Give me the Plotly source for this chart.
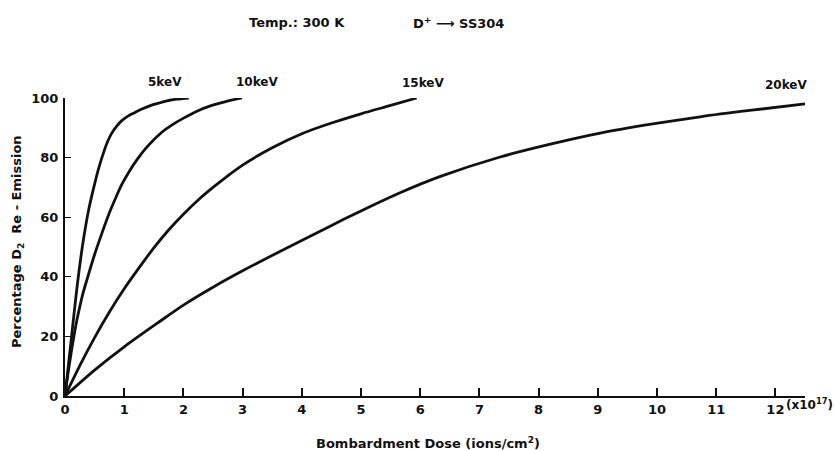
import plotly.graph_objects as go

# Bombardment dose (x 10^17 ions/cm^2) and D2 re-emission (%) for each beam energy
dose_5kev = [0, 0.10, 0.20, 0.30, 0.40, 0.48, 0.57, 0.65, 0.72, 0.79, 0.87, 0.96,
             1.07, 1.19, 1.30, 1.41, 1.55, 1.69, 1.88, 2.09]
reem_5kev = [0, 18, 36, 51, 62.5, 69.5, 76.5, 81.6, 85.4, 88.2, 90.5, 92.4,
             94.0, 95.2, 96.3, 97.2, 98.1, 98.9, 99.6, 100]

dose_10kev = [0, 0.05, 0.10, 0.15, 0.20, 0.25, 0.30, 0.37, 0.50, 0.63, 0.74, 0.85,
              0.96, 1.08, 1.22, 1.36, 1.50, 1.64, 1.81, 1.98, 2.22, 2.48, 2.73, 2.99]
reem_10kev = [0, 7.5, 14, 20, 25.4, 30, 34.2, 39, 47.5, 55, 61, 66.2,
              71, 75.2, 79.4, 83, 86, 88.6, 91, 93, 95.5, 97.5, 98.9, 100]

dose_15kev = [0, 0.25, 0.50, 0.75, 1.00, 1.25, 1.50, 1.75, 2.00, 2.25, 2.50, 2.75,
              3.00, 3.50, 4.00, 4.50, 5.00, 5.50, 5.94]
reem_15kev = [0, 10.2, 19.6, 28.2, 36, 43, 49.7, 55.7, 61, 65.8, 70, 73.9,
              77.5, 83.3, 88, 91.6, 94.7, 97.5, 100]

dose_20kev = [0, 0.5, 1.0, 1.6, 2.0, 2.5, 3.0, 3.63, 4.20, 4.70, 5.20, 5.66, 6.33,
              7.35, 8.20, 9.04, 9.90, 10.73, 11.60, 12.5]
reem_20kev = [0, 8.7, 16.5, 25, 30.5, 36.5, 42, 48.5, 54.2, 59.2, 64, 68.2, 73.6,
              80.2, 84.5, 88.2, 91.2, 93.7, 95.9, 98]

curve_labels = ["5keV", "10keV", "15keV", "20keV"]
x_ticks = list(range(0, 13))
y_ticks = [0, 20, 40, 60, 80, 100]

FONT = "DejaVu Sans"
INK = "#111111"

W, H = 835, 451
L, R, T, B = 65, 30, 98, 55

fig = go.Figure()
series = [(dose_5kev, reem_5kev), (dose_10kev, reem_10kev),
          (dose_15kev, reem_15kev), (dose_20kev, reem_20kev)]
for (xs, ys), name in zip(series, curve_labels):
    fig.add_trace(go.Scatter(
        x=xs, y=ys, mode="lines", name=name,
        line=dict(color=INK, width=2.8, shape="spline", smoothing=0.8),
        cliponaxis=False, showlegend=False, hoverinfo="skip",
    ))


def px_x(px):
    return (px - L) / (W - L - R)


def px_y(py):
    return (H - B - py) / (H - T - B)


def label(x, y, text, size=13, anchor="center", angle=0):
    return dict(
        x=px_x(x), y=px_y(y), xref="paper", yref="paper", text=text,
        showarrow=False, textangle=angle,
        font=dict(family=FONT, size=size, color=INK, weight="bold"),
        xanchor=anchor, yanchor="middle",
    )


annotations = []
# curve labels above the curve ends
label_pos = [(165, 82), (257, 82), (423, 83), (786, 85)]
for name, (lx, ly) in zip(curve_labels, label_pos):
    annotations.append(label(lx, ly, name, size=12))

# header text
annotations.append(label(297, 23, "Temp.: 300 K"))
annotations.append(label(458, 23, "D<sup>+</sup> \u27f6 SS304"))

# axis titles
annotations.append(label(428, 443, "Bombardment Dose (ions/cm<sup>2</sup>)"))
annotations.append(label(17, 242, "Percentage D<sub>2</sub>  Re - Emission", angle=-90))
annotations.append(label(784, 404, "(x10<sup>17</sup>)", size=12, anchor="left"))

fig.update_layout(
    width=W, height=H,
    margin=dict(l=L, r=R, t=T, b=B, pad=0),
    paper_bgcolor="white", plot_bgcolor="white",
    annotations=annotations,
    font=dict(family=FONT, color=INK),
)
fig.update_xaxes(
    range=[0, 12.5], tickvals=x_ticks, ticktext=[str(v) for v in x_ticks],
    ticks="inside", ticklen=8, tickwidth=1.5, tickcolor=INK,
    showline=True, linecolor=INK, linewidth=2, showgrid=False, zeroline=False,
    tickfont=dict(family=FONT, size=13, color=INK, weight="bold"),
    ticklabelstandoff=0,
)
fig.update_yaxes(
    range=[0, 100], tickvals=y_ticks, ticktext=[str(v) for v in y_ticks],
    ticks="inside", ticklen=6, tickwidth=1.2, tickcolor=INK,
    showline=True, linecolor=INK, linewidth=2, showgrid=False, zeroline=False,
    tickfont=dict(family=FONT, size=13, color=INK, weight="bold"),
    ticklabelstandoff=2,
)

fig.write_html("out.html")
